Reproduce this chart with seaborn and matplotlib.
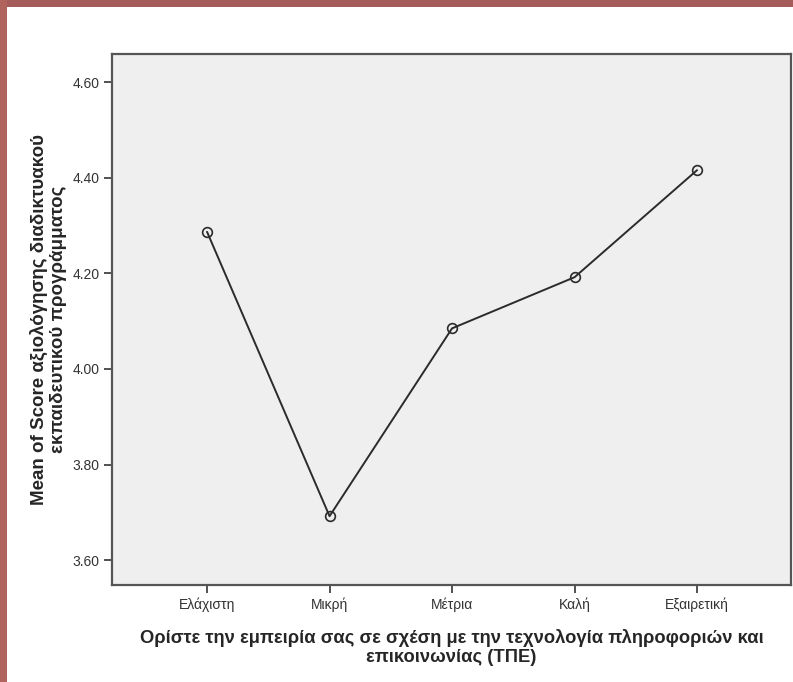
"""
Line chart: mean evaluation score by ICT experience level (SPSS-style look).
"""

import matplotlib
matplotlib.use("Agg")
import matplotlib.pyplot as plt
from matplotlib.patches import Rectangle
import pandas as pd
import seaborn as sns

# ── Data ────────────────────────────────────────────────────
categories = ["Ελάχιστη", "Μικρή", "Μέτρια", "Καλή", "Εξαιρετική"]
mean_scores = [4.287, 3.692, 4.085, 4.192, 4.416]
y_ticks = [3.60, 3.80, 4.00, 4.20, 4.40, 4.60]

x_title = ("Ορίστε την εμπειρία σας σε σχέση με την τεχνολογία πληροφοριών και\n"
           "επικοινωνίας (ΤΠΕ)")
y_title = "Mean of Score αξιολόγησης διαδικτυακού\nεκπαιδευτικού προγράμματος"

df = pd.DataFrame({"level": categories, "score": mean_scores})

# ── Style ───────────────────────────────────────────────────
sns.set_style("white")
plt.rcParams["font.family"] = ["Liberation Sans", "DejaVu Sans"]

fig = plt.figure(figsize=(7.93, 6.82), dpi=100)
fig.patch.set_facecolor("white")

# reddish frame strips (top and left) of the screenshot
fig.add_artist(Rectangle((0, 0.99), 1, 0.02, transform=fig.transFigure,
                         facecolor="#a45b5a", edgecolor="none", zorder=10))
fig.add_artist(Rectangle((0, 0), 0.009, 1, transform=fig.transFigure,
                         facecolor="#b0645d", edgecolor="none", zorder=10))

ax = fig.add_axes([0.1412, 0.1422, 0.8563, 0.7786])
ax.set_facecolor("#efefef")

sns.lineplot(data=df, x="level", y="score", ax=ax, sort=False,
             color="#2b2b2b", linewidth=1.4, marker="o", markersize=7,
             markerfacecolor="none", markeredgecolor="#2b2b2b",
             markeredgewidth=1.2)

ax.set_xlim(-0.776, 4.767)
ax.set_ylim(3.548, 4.659)
ax.set_yticks(y_ticks)
ax.set_yticklabels([f"{v:.2f}" for v in y_ticks])

for side in ["left", "bottom", "top", "right"]:
    ax.spines[side].set_visible(True)
    ax.spines[side].set_color("#555555")
    ax.spines[side].set_linewidth(1.6)

ax.tick_params(axis="both", which="major", direction="out", length=6,
               width=1.2, color="#333333", labelsize=10, labelcolor="#333333",
               pad=3, left=True, bottom=True)

ax.set_xlabel(x_title, fontsize=13.2, fontweight="bold", labelpad=12,
              linespacing=1.15)
ax.set_ylabel(y_title, fontsize=13.5, fontweight="bold", labelpad=4,
              linespacing=1.1)

fig.savefig("out.png", dpi=100, facecolor=fig.get_facecolor())
